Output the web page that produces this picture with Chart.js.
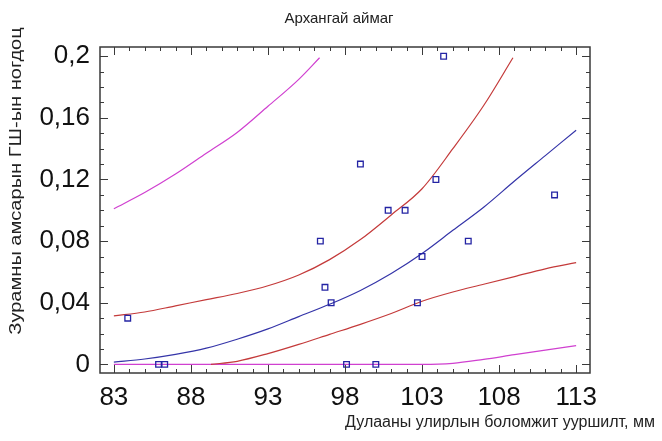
<!DOCTYPE html>
<html>
<head>
<meta charset="utf-8">
<script src="https://cdn.jsdelivr.net/npm/chart.js@4/dist/chart.umd.min.js"></script>
<style>
  body { margin: 0; background: #fff; }
  #wrap { width: 662px; height: 441px; }
</style>
</head>
<body>
<div id="wrap"><canvas id="chart" width="662" height="441"></canvas></div>
<script>
// observed points
const pointX = [83.9, 85.9, 86.3, 96.4, 96.7, 97.1, 98.1, 99, 100, 100.8, 101.9, 102.7, 103, 103.9, 104.4, 106, 111.6];
const pointY = [0.03, 0, 0, 0.08, 0.05, 0.04, 0, 0.13, 0, 0.1, 0.1, 0.04, 0.07, 0.12, 0.2, 0.08, 0.11];

// fitted model
const fitX = [83, 85, 87, 89, 91, 93, 95, 97, 99, 101, 103, 105, 107, 109, 111, 113];
const fitY = [0.0015, 0.0035, 0.0065, 0.0105, 0.0163, 0.023, 0.031, 0.039, 0.048, 0.059, 0.072, 0.087, 0.102, 0.119, 0.1355, 0.152];

// confidence limits
const confUpX = [83, 85, 87, 89, 91, 93, 95, 97, 99, 101, 103, 105, 107, 108.9];
const confUpY = [0.0315, 0.034, 0.038, 0.042, 0.046, 0.051, 0.058, 0.068, 0.081, 0.097, 0.114, 0.140, 0.168, 0.199];
const confLoX = [89.3, 91, 93, 95, 97, 99, 101, 103, 105, 107, 109, 111, 113];
const confLoY = [0, 0.002, 0.007, 0.013, 0.0195, 0.026, 0.033, 0.041, 0.047, 0.052, 0.057, 0.062, 0.066];

// prediction limits
const predUpX = [83, 85, 87, 89, 91, 93, 95, 96.35];
const predUpY = [0.101, 0.1115, 0.1235, 0.137, 0.1505, 0.1675, 0.185, 0.199];
const predLoX = [83, 87, 91, 95, 99, 103, 105, 107, 109, 111, 113];
const predLoY = [0, 0, 0, 0, 0, 0, 0.0007, 0.0033, 0.0063, 0.0092, 0.0122];

const xTicks = [83, 88, 93, 98, 103, 108, 113];
const yTicks = [0, 0.04, 0.08, 0.12, 0.16, 0.2];

const title = 'Архангай аймаг';
const xTitle = 'Дулааны улирлын боломжит ууршилт, мм';
const yTitle = 'Зурамны амсарын ГШ-ын ногдоц';

const FONT = '"Liberation Sans", Arial, sans-serif';

const pts = (xs, ys) => xs.map((x, i) => ({x: x, y: ys[i]}));

function curve(xs, ys, color) {
  return {
    type: 'line',
    data: pts(xs, ys),
    borderColor: color,
    borderWidth: 1.2,
    pointRadius: 0,
    fill: false,
    cubicInterpolationMode: 'monotone'
  };
}

const frame = {
  id: 'frame',
  afterDraw(chart) {
    const {ctx, chartArea: a, scales: {x, y}} = chart;
    ctx.save();
    ctx.strokeStyle = '#3a3a3a';
    ctx.lineWidth = 1;
    const seg = (x1, y1, x2, y2) => { ctx.beginPath(); ctx.moveTo(x1, y1); ctx.lineTo(x2, y2); ctx.stroke(); };
    for (let v = 83; v <= 113; v++) {
      const px = Math.round(x.getPixelForValue(v)) + 0.5;
      const len = (v - 83) % 5 === 0 ? 8 : 4;
      seg(px, a.bottom, px, a.bottom - len);
      seg(px, a.top, px, a.top + len);
    }
    for (let i = 0; i <= 20; i++) {
      const py = Math.round(y.getPixelForValue(i / 100)) + 0.5;
      const len = i % 4 === 0 ? 8 : 4;
      seg(a.left, py, a.left + len, py);
      seg(a.right, py, a.right - len, py);
    }
    ctx.lineWidth = 1.5;
    ctx.strokeRect(a.left, a.top, a.right - a.left, a.bottom - a.top);

    ctx.fillStyle = '#222';
    ctx.font = '15px ' + FONT;
    ctx.textAlign = 'center';
    ctx.textBaseline = 'middle';
    ctx.fillText(title, 339, 19);

    ctx.font = '16px ' + FONT;
    ctx.textAlign = 'right';
    ctx.fillText(xTitle, 655, 423);

    // y title: stretched along its length like the reference
    ctx.translate(16, 181);
    ctx.rotate(-Math.PI / 2);
    ctx.scale(1.18, 1);
    ctx.textAlign = 'center';
    ctx.font = '17px ' + FONT;
    ctx.fillText(yTitle, 0, 0);
    ctx.restore();
  }
};

new Chart(document.getElementById('chart'), {
  type: 'scatter',
  data: {
    datasets: [
      {
        data: pts(pointX, pointY),
        pointStyle: 'rect',
        pointRadius: 4,
        pointBorderWidth: 1.3,
        pointBorderColor: '#2424a4',
        pointBackgroundColor: 'rgba(255,255,255,0)',
        showLine: false
      },
      curve(fitX, fitY, '#3434a8'),
      curve(confUpX, confUpY, '#c43a3a'),
      curve(confLoX, confLoY, '#c43a3a'),
      curve(predUpX, predUpY, '#d040d0'),
      curve(predLoX, predLoY, '#d040d0')
    ]
  },
  options: {
    responsive: false,
    animation: false,
    layout: { padding: { top: 47, right: 72, left: 0, bottom: 0 } },
    plugins: { legend: { display: false }, tooltip: { enabled: false } },
    scales: {
      x: {
        type: 'linear',
        min: 82.1,
        max: 113.9,
        grid: { display: false, drawTicks: false },
        border: { display: false },
        afterBuildTicks: s => { s.ticks = xTicks.map(v => ({value: v})); },
        afterFit: s => { s.height = 68; },
        ticks: {
          autoSkip: false,
          maxRotation: 0,
          padding: 9,
          color: '#111',
          font: { family: FONT, size: 26 }
        }
      },
      y: {
        type: 'linear',
        min: -0.0056,
        max: 0.206,
        grid: { display: false, drawTicks: false },
        border: { display: false },
        afterBuildTicks: s => { s.ticks = yTicks.map(v => ({value: v})); },
        afterFit: s => { s.width = 100; },
        ticks: {
          autoSkip: false,
          padding: 10,
          color: '#111',
          font: { family: FONT, size: 26 },
          callback: v => v === 0 ? '0' : String(+v.toFixed(2)).replace('.', ',')
        }
      }
    }
  },
  plugins: [frame]
});
</script>
</body>
</html>
